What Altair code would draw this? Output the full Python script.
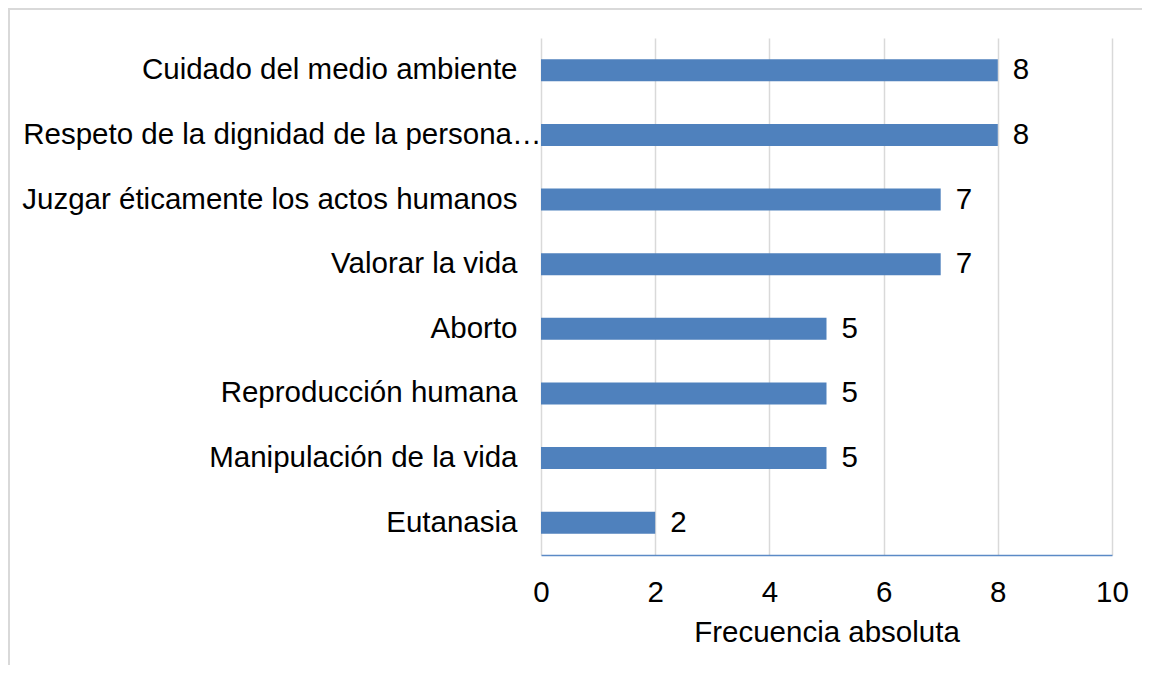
import altair as alt
import pandas as pd

categories = [
    "Cuidado del medio ambiente",
    "Respeto de la dignidad de la persona…",
    "Juzgar éticamente los actos humanos",
    "Valorar la vida",
    "Aborto",
    "Reproducción humana",
    "Manipulación de la vida",
    "Eutanasia",
]
values = [8, 8, 7, 7, 5, 5, 5, 2]
x_ticks = [0, 2, 4, 6, 8, 10]
x_title = "Frecuencia absoluta"

df = pd.DataFrame({"tema": categories, "frecuencia": values})

FONT = "Liberation Sans"
FS = 29.5
BAR = "#4f81bd"

y_enc = alt.Y(
    "tema:N",
    sort=categories,
    title=None,
    scale=alt.Scale(paddingInner=0.66, paddingOuter=0.33),
    axis=alt.Axis(
        domain=False,
        ticks=False,
        labelFont=FONT,
        labelFontSize=FS,
        labelColor="black",
        labelLimit=0,
        labelPadding={
            "condition": {"test": "datum.value === 'Respeto de la dignidad de la persona…'", "value": 0},
            "value": 24,
        },
    ),
)

x_enc = alt.X(
    "frecuencia:Q",
    title=x_title,
    scale=alt.Scale(domain=[0, 10], nice=False),
    axis=alt.Axis(
        values=x_ticks,
        format="d",
        ticks=False,
        grid=True,
        gridColor="#d9d9d9",
        gridWidth=1.5,
        domain=True,
        domainColor="#5b8ac6",
        domainWidth=1.5,
        labelFont=FONT,
        labelFontSize=FS,
        labelColor="black",
        labelPadding=23,
        labelFlush=False,
        labelOverlap=False,
        titleFont=FONT,
        titleFontSize=FS,
        titleFontWeight="normal",
        titleColor="black",
        titlePadding=12,
    ),
)

bars = alt.Chart(df).mark_bar(color=BAR).encode(x=x_enc, y=y_enc)

labels = alt.Chart(df).mark_text(
    align="left", baseline="middle", dx=15, font=FONT, fontSize=FS, color="black"
).encode(x="frecuencia:Q", y=alt.Y("tema:N", sort=categories), text="frecuencia:Q")

one = pd.DataFrame({"a": [0]})
border_left = alt.Chart(one).mark_rule(color="#d9d9d9", strokeWidth=2).encode(
    x=alt.value(-532), y=alt.value(-30), y2=alt.value(700)
)
border_top = alt.Chart(one).mark_rule(color="#d9d9d9", strokeWidth=2).encode(
    y=alt.value(-29), x=alt.value(-533), x2=alt.value(700)
)

chart = (
    alt.layer(border_left, border_top, bars, labels)
    .properties(
        width=571,
        height=517,
        autosize=alt.AutoSizeParams(type="none"),
        padding={"left": 533, "top": 30, "right": 30, "bottom": 110},
    )
    .configure_view(stroke=None)
)

chart.save("out.html", embed_options={"renderer": "svg", "actions": False})
